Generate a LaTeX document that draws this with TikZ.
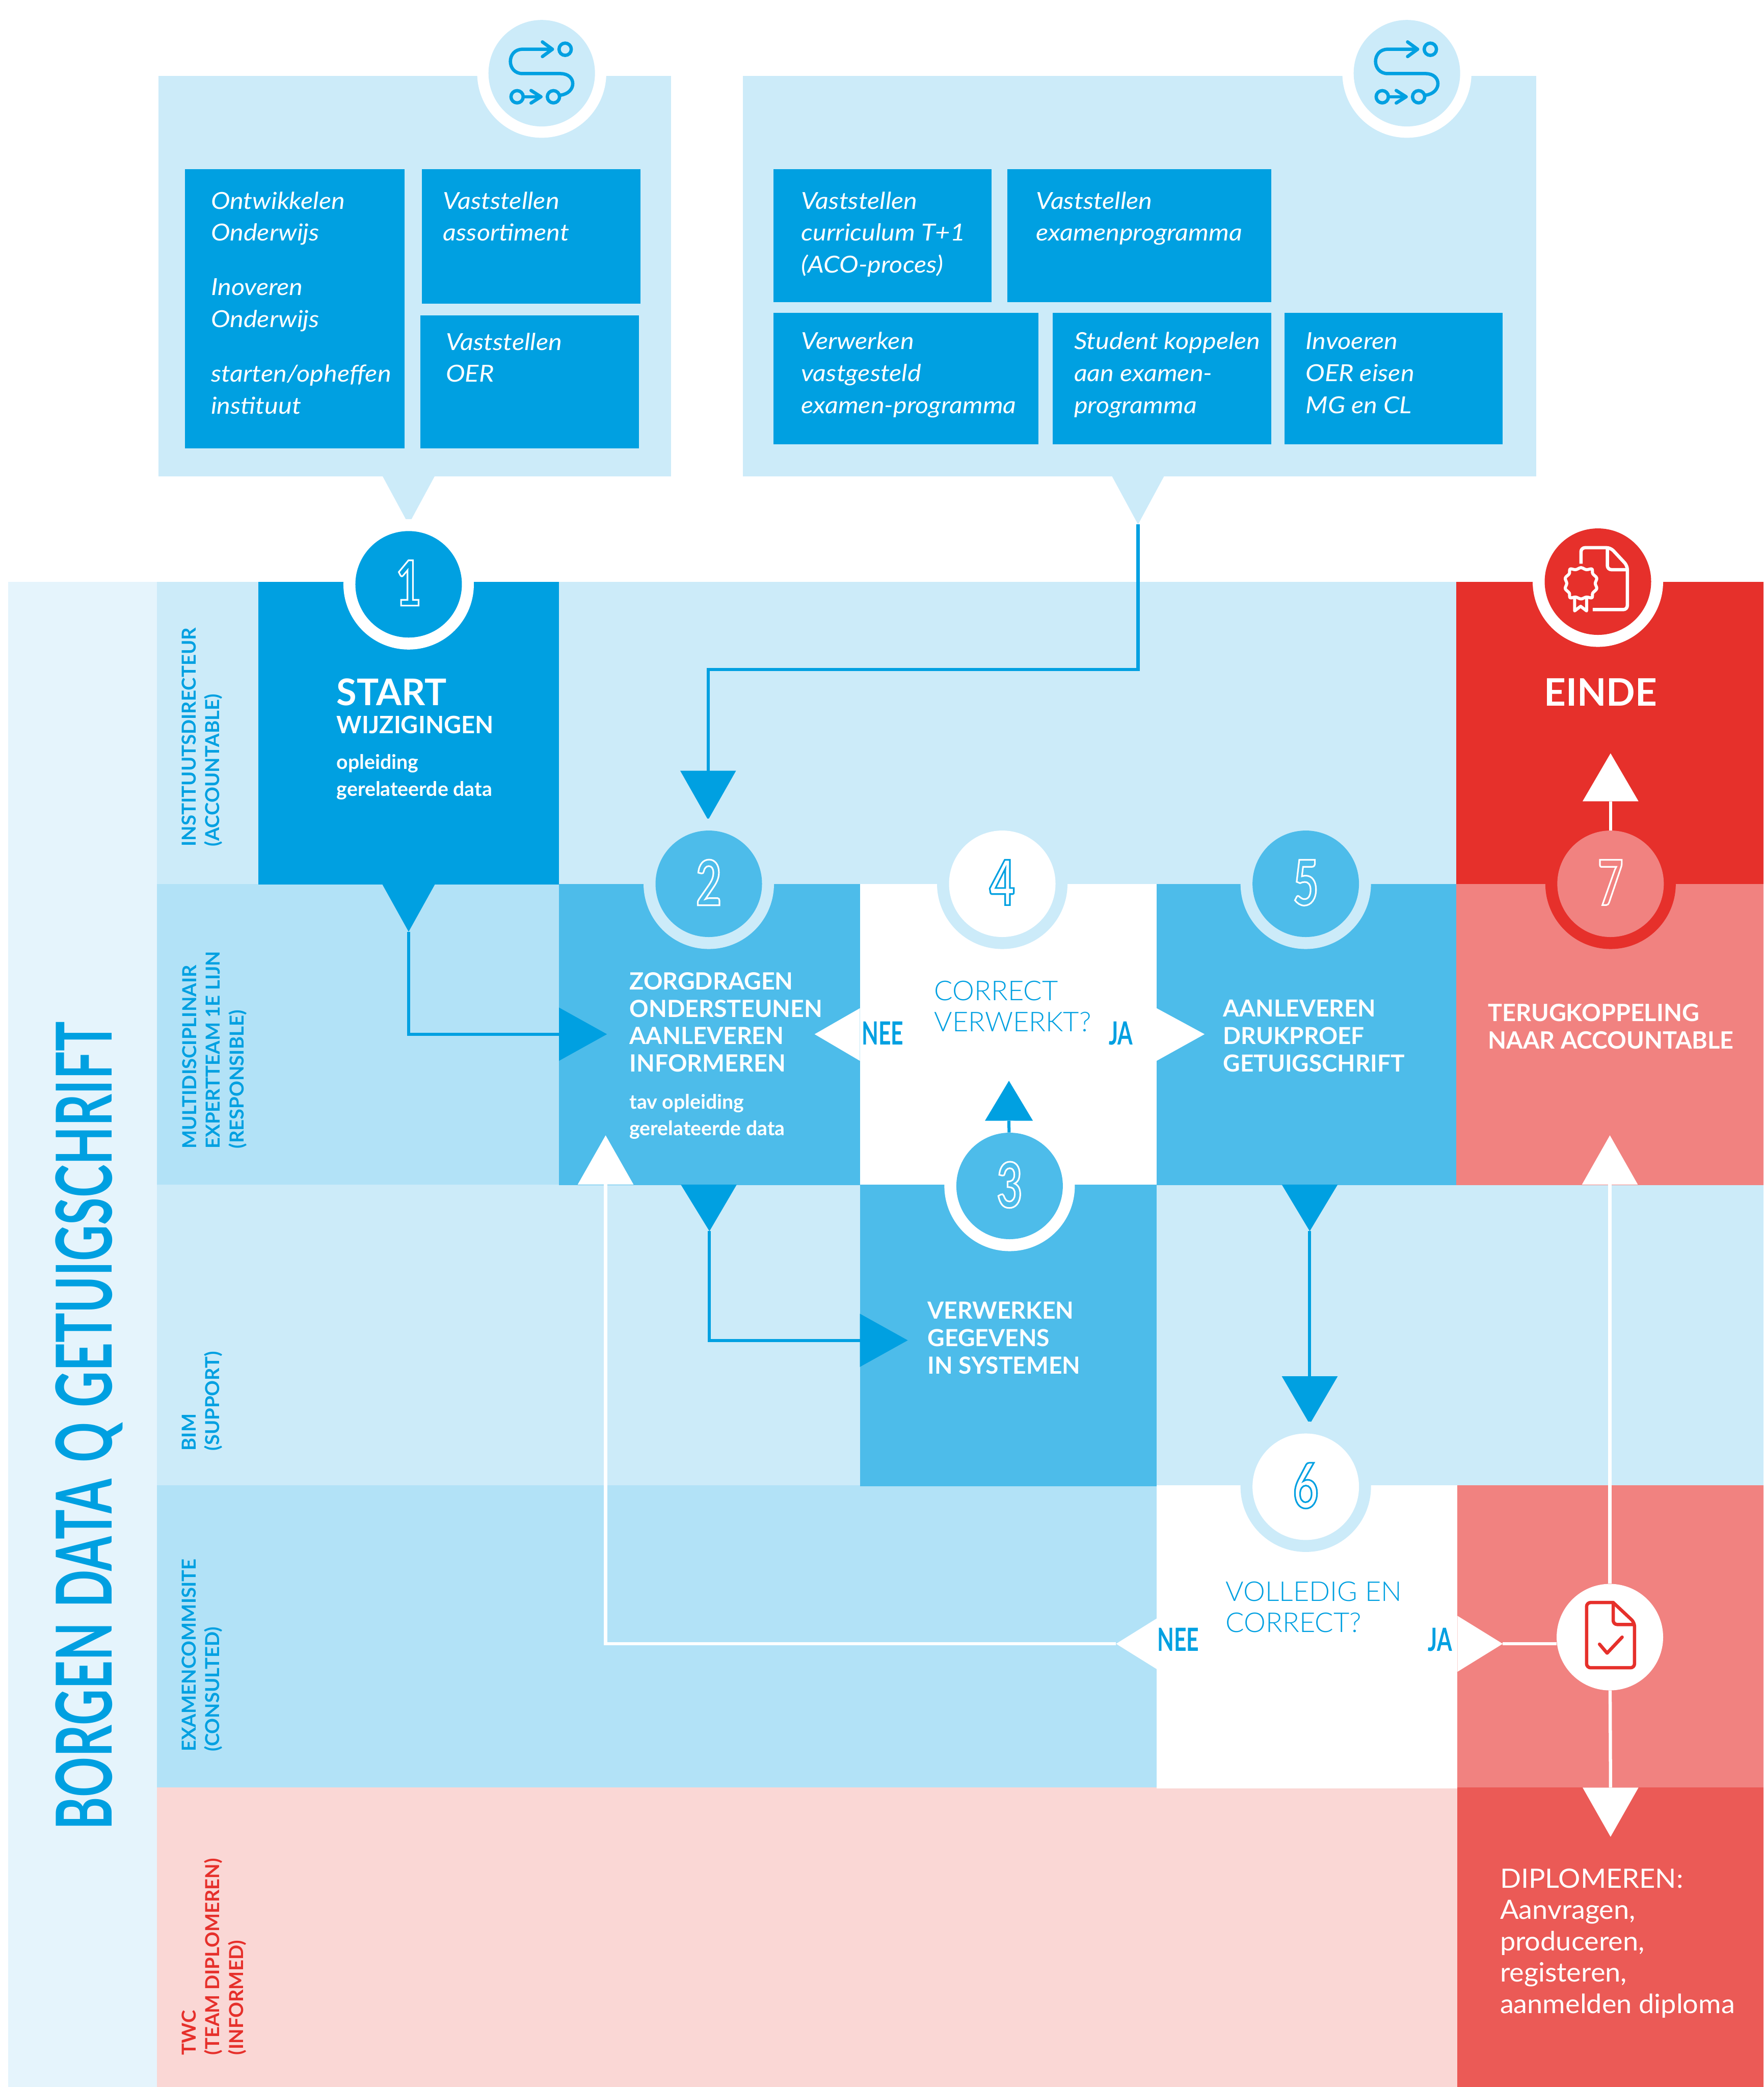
\documentclass[tikz,border=0pt]{standalone}
\usepackage{fontspec}
\usetikzlibrary{calc}
\setmainfont{Lato}
\IfFontExistsTF{Lato Light}{\newfontfamily\lightf{Lato Light}[FakeStretch=1.01]}{\newfontfamily\lightf{Lato}}
\newfontfamily\regf{Lato}[FakeStretch=1.035]
\newfontfamily\itf{Lato}[FakeStretch=1.10]
\newfontfamily\condf{Lato}[FakeStretch=0.645]
\newfontfamily\digf{Lato}[FakeStretch=0.7]
\newfontfamily\neef{Lato}[FakeStretch=0.68]
\newfontfamily\labf{Lato}[FakeStretch=1.01]
\definecolor{cPale}{HTML}{E5F4FC}
\definecolor{cLight}{HTML}{CCEBF9}
\definecolor{cRow}{HTML}{B2E2F7}
\definecolor{cBlue}{HTML}{00A0E1}
\definecolor{cMid}{HTML}{4DBCEA}
\definecolor{cRed}{HTML}{E6302B}
\definecolor{cSalmon}{HTML}{F18280}
\definecolor{cPink}{HTML}{FAD7D5}
\definecolor{cRed2}{HTML}{EB5A56}
\tikzset{
  txt/.style={anchor=north west,inner sep=0,outer sep=0,align=left},
  blueline/.style={draw=cBlue,line width=2.3pt},
  whiteline/.style={draw=white,line width=2.4pt},
  iconline/.style={line width=2.5pt,line cap=round,line join=round,fill=none},
}
\newcommand\outl[1]{\raisebox{2pt}{\special{pdf:literal 1 Tr 1.2 w}#1\special{pdf:literal 0 Tr 1 w}}}
% name,x1,y1,x2,y2,colour
\newcommand\area[6]{\node[inner sep=0,outer sep=0,fill=#6,minimum width={(#4-#2)*1pt},minimum height={(#5-#3)*1pt},anchor=center] (#1) at ({(#2+#4)/2},{(#3+#5)/2}) {};}
% name,colour,base a,base b,apex
\newcommand\tri[5]{\fill[#2] (#3) -- (#4) -- (#5) -- cycle; \coordinate (#1) at (#5); \coordinate (#1b) at ($(#3)!.5!(#4)$);}
% name,x,baseline,font,colour,size,skip,text
\newcommand\tx[8]{\node[txt,text=#5,font={#4\fontsize{#6}{#7}\selectfont}] (#1) at (#2,#3-#6) {\vrule height #6pt depth 0pt width 0pt #8};}
\newcommand\rx[8]{\node[txt,rotate=90,text=#5,font={#4\fontsize{#6}{#7}\selectfont}] (#1) at (#2-#6,#3) {\vrule height #6pt depth 0pt width 0pt #8};}
% name,x,y,ring,fill,digit colour,digit
\newcommand\numc[7]{\node[circle,inner sep=0,fill=#4,minimum size=98pt] (#1r) at (#2,#3) {};
  \node[circle,inner sep=0,fill=#5,minimum size=80pt,text=#6,font=\digf\bfseries\fontsize{47}{47}\selectfont] (#1) at (#2,#3) {\outl{#7}};}
\newcommand\routeicon[3]{\begin{scope}[shift={(#2,#3)}]
  \node[circle,inner sep=0,fill=white,minimum size=97pt] (#1r) at (0,0) {};
  \node[circle,inner sep=0,fill=cLight,minimum size=80pt] (#1) at (0,0) {};
  \draw[iconline,cBlue] (17.6,-18) circle (4.6);
  \draw[iconline,cBlue] (8.8,17.7) circle (4.6);
  \draw[iconline,cBlue] (-18.5,17.7) circle (4.6);
  \draw[iconline,cBlue] (8,-18) -- (-14.4,-18) .. controls (-26.6,-18) and (-26.6,0.3) .. (-14.4,0.3) -- (14,0.3) .. controls (26.4,0.3) and (26.4,15) .. (14,16.5);
  \draw[iconline,cBlue] (0.5,-23.5) -- (8,-18) -- (0.5,-12.5);
  \draw[iconline,cBlue] (-13.5,17.7) -- (-0.6,17.7);
  \draw[iconline,cBlue] (-8,13) -- (-0.6,17.7) -- (-8,22.4);
\end{scope}}
\begin{document}
\begin{tikzpicture}[x=1pt,y=-1pt]
\useasboundingbox (0,0) rectangle (1325,1568);
% --- top panels
\area{panelA}{119}{57}{504}{358}{cLight}
\area{panelB}{558}{57}{1154}{358}{cLight}
\tri{pA}{cLight}{287,357}{327,357}{307,394}
\tri{pB}{cLight}{835,357}{875,357}{855,394}
\routeicon{iconA}{407}{55}
\routeicon{iconB}{1057}{55}
\area{a1}{139}{127}{304}{337}{cBlue}
\area{a2}{317}{127}{481}{228}{cBlue}
\area{a3}{316}{237}{480}{337}{cBlue}
\area{b1}{581}{127}{745}{227}{cBlue}
\area{b2}{757}{127}{955}{227}{cBlue}
\area{b3}{581}{235}{780}{334}{cBlue}
\area{b4}{791}{235}{955}{334}{cBlue}
\area{b5}{965}{235}{1129}{334}{cBlue}
\tx{ta1a}{158.5}{157}{\itf\itshape}{white}{17.6}{24}{Ontwikkelen\\Onderwijs}
\tx{ta1b}{158.5}{222}{\itf\itshape}{white}{17.6}{24}{Inoveren\\Onderwijs}
\tx{ta1c}{158.5}{287}{\itf\itshape}{white}{17.6}{24}{starten/opheffen\\instituut}
\tx{ta2}{333}{157}{\itf\itshape}{white}{17.6}{24}{Vaststellen\\assortiment}
\tx{ta3}{335}{263}{\itf\itshape}{white}{17.6}{24}{Vaststellen\\OER}
\tx{tb1}{602}{157}{\itf\itshape}{white}{17.6}{24}{Vaststellen\\curriculum T+1\\(ACO-proces)}
\tx{tb2}{778.5}{157}{\itf\itshape}{white}{17.6}{24}{Vaststellen\\examenprogramma}
\tx{tb3}{602}{262.5}{\itf\itshape}{white}{17.6}{24}{Verwerken\\vastgesteld\\examen-programma}
\tx{tb4}{807}{262.5}{\itf\itshape}{white}{17.6}{24}{Student koppelen\\aan examen-\\programma}
\tx{tb5}{981}{262.5}{\itf\itshape}{white}{17.6}{24}{Invoeren\\OER eisen\\MG en CL}
% --- swimlanes
\area{strip}{6}{437}{118.5}{1568}{cPale}
\area{r1}{118}{437}{1095}{664.5}{cLight}
\area{r2}{118}{664}{421}{890.5}{cRow}
\area{r3}{118}{890}{1325}{1116.5}{cLight}
\area{r4}{118}{1116}{870}{1343.5}{cRow}
\area{r5}{118}{1343}{1096}{1568}{cPink}
\area{start}{194}{437}{420}{664.5}{cBlue}
\area{einde}{1094}{437}{1325}{664.5}{cRed}
\area{s2}{420}{664}{646}{890.5}{cMid}
\area{s4}{646}{664}{869}{890.5}{white}
\area{s5}{869}{664}{1094}{890.5}{cMid}
\area{s7}{1094}{664}{1325}{890.5}{cSalmon}
\area{s3}{646}{890}{869}{1116.5}{cMid}
\area{s6}{869}{1116}{1095}{1343.5}{white}
\area{sr}{1095}{1116}{1325}{1343.5}{cSalmon}
\area{dipl}{1095}{1343}{1325}{1568}{cRed2}
% --- triangles
\coordinate (j1) at (532,503);
\tri{tStart}{cBlue}{287,664}{327,664}{307,700}
\tri{tIn2}{cBlue}{511,579}{553,579}{532,616}
\tri{tR2}{cBlue}{420,757}{420,797}{456,777}
\tri{tD2}{cBlue}{511.5,890}{553.5,890}{533,925}
\tri{tR3}{cBlue}{646,987}{646,1027}{682,1007}
\tri{tU3}{cBlue}{740,842}{776,842}{758,812}
\tri{tD5}{cBlue}{963,890}{1005,890}{984,925}
\tri{tD6}{cBlue}{963,1034}{1005,1034}{984,1070}
\tri{tNee4}{white}{646,757.5}{646,797}{612,777}
\tri{tJa4}{white}{869,757.5}{869,797}{905,777}
\tri{tU2}{white}{434,890}{476,890}{455,853}
\tri{tU7}{white}{1188.5,890}{1230.5,890}{1209.5,853}
\tri{tEnd}{white}{1189,602}{1231,602}{1210,566}
\tri{tDip}{white}{1189,1343}{1231,1343}{1210,1380}
\tri{tNee6}{white}{869,1216}{869,1254}{838.5,1235}
\tri{tJa6}{white}{1095,1214}{1095,1256}{1129,1235}
% --- circles
\numc{c1}{307}{439}{white}{cBlue}{white}{1}
\numc{c2}{532.5}{664}{cLight}{cMid}{white}{2}
\numc{c3}{758.5}{891}{white}{cMid}{white}{3}
\numc{c4}{753}{664}{cLight}{white}{cBlue}{4}
\numc{c5}{981}{664}{cLight}{cMid}{white}{5}
\numc{c6}{981}{1117}{cLight}{white}{cBlue}{6}
\numc{c7}{1210}{664}{cRed}{cSalmon}{white}{7}
\node[circle,inner sep=0,fill=white,minimum size=98pt] (cEndr) at (1200.5,437) {};
\node[circle,inner sep=0,fill=cRed,minimum size=80pt] (cEnd) at (1200.5,437) {};
\node[circle,inner sep=0,fill=white,minimum size=80pt] (cChk) at (1209.5,1230) {};
% --- connectors
\draw[blueline] (pB) |- (j1) -- (tIn2b);
\draw[blueline] (tStart) |- (tR2b);
\draw[blueline] (tD2) |- (tR3b);
\draw[blueline] (c3) -- (tU3b);
\draw[blueline] (tD5) -- (tD6b);
\draw[whiteline] (c7) -- (tEndb);
\draw[whiteline] (tNee6) -| (tU2b);
\draw[whiteline] (tJa6) -- (cChk.west |- tJa6);
\draw[whiteline] (tU7b) -- (cChk);
\draw[whiteline] (cChk) -- (tDipb);
% --- EINDE icon
\draw[iconline,white,line cap=butt] (1187.8,423.5) [rounded corners=3pt] -- (1187.8,411.5) -- (1210,411.5) -- (1222.6,425) -- (1222.6,458) -- (1196.6,458);
\draw[iconline,white,rounded corners=3pt] (1207.6,412) -- (1207.6,428) -- (1222.6,428);
\draw[iconline,white,line width=2.3pt] plot[smooth cycle,tension=.6] coordinates {
(1187.8,426.5)(1191.8,428)(1196,427.5)(1196.6,431)(1199.6,434.3)(1198.5,438.3)(1199.6,442.3)(1196.6,445.6)(1196,449.1)(1191.8,448.6)(1187.8,450)(1183.8,448.6)(1179.6,449.1)(1179,445.6)(1176,442.3)(1177.1,438.3)(1176,434.3)(1179,431)(1179.6,427.5)(1183.8,428)};
\draw[iconline,white,line width=2.3pt] (1183,449) -- (1183,459) -- (1187.5,455.5) -- (1192,459) -- (1192,449);
% --- check icon
\draw[iconline,cRed,rounded corners=3pt] (1212,1204) -- (1192,1204) -- (1192,1253) -- (1228,1253) -- (1228,1219) -- (1212,1204);
\draw[iconline,cRed,rounded corners=3pt] (1212,1204) -- (1212,1220.5) -- (1227,1220.5);
\draw[iconline,cRed] (1201.7,1235.3) -- (1207.4,1242) -- (1218.7,1230);
% --- process texts
\tx{tStartA}{253}{530}{\bfseries}{white}{27.6}{27.6}{START}
\tx{tStartB}{253}{551}{\bfseries}{white}{18}{18}{WIJZIGINGEN}
\tx{tStartC}{253}{578}{\bfseries}{white}{15}{20}{opleiding\\gerelateerde data}
\tx{tEinde}{1160}{530.5}{\bfseries}{white}{28.5}{28.5}{EINDE}
\tx{t2a}{473}{743.5}{\bfseries}{white}{17.8}{20.6}{ZORGDRAGEN\\ONDERSTEUNEN\\AANLEVEREN\\INFORMEREN}
\tx{t2b}{473}{833}{\bfseries}{white}{15}{20}{tav opleiding\\gerelateerde data}
\tx{t4}{702}{751.5}{\lightf}{cBlue}{20.5}{23.5}{CORRECT\\VERWERKT?}
\tx{t4n}{647.5}{785}{\neef\bfseries}{cBlue}{24}{24}{NEE}
\tx{t4j}{833}{785}{\neef\bfseries}{cBlue}{24}{24}{JA}
\tx{t5}{919}{764}{\bfseries}{white}{17.6}{20.6}{AANLEVEREN\\DRUKPROEF\\GETUIGSCHRIFT}
\tx{t3}{697}{991}{\bfseries}{white}{17.7}{20.6}{VERWERKEN\\GEGEVENS\\IN SYSTEMEN}
\tx{t7}{1118}{767.5}{\bfseries}{white}{17.9}{20.6}{TERUGKOPPELING\\NAAR ACCOUNTABLE}
\tx{t6}{921}{1203}{\lightf}{cBlue}{20.5}{23.5}{VOLLEDIG EN\\CORRECT?}
\tx{t6n}{869.5}{1240.5}{\neef\bfseries}{cBlue}{24}{24}{NEE}
\tx{t6j}{1073}{1240.5}{\neef\bfseries}{cBlue}{24}{24}{JA}
\tx{tDip}{1127}{1418.5}{\regf}{white}{20}{23.5}{DIPLOMEREN:\\Aanvragen,\\produceren,\\registeren,\\aanmelden diploma}
% --- lane labels
\rx{l1}{147}{636}{\labf\bfseries}{cBlue}{14.5}{17.8}{INSTITUUTSDIRECTEUR\\(ACCOUNTABLE)}
\rx{l2}{147.5}{863}{\labf\bfseries}{cBlue}{14.5}{17.8}{MULTIDISCIPLINAIR\\EXPERTTEAM 1E LIJN\\(RESPONSIBLE)}
\rx{l3}{147}{1090}{\labf\bfseries}{cBlue}{14.5}{17.8}{BIM\\(SUPPORT)}
\rx{l4}{147}{1316}{\labf\bfseries}{cBlue}{14.5}{17.8}{EXAMENCOMMISITE\\(CONSULTED)}
\rx{l5}{147}{1544}{\labf\bfseries}{cRed}{14.5}{17.8}{TWC\\(TEAM DIPLOMEREN)\\(INFORMED)}
\rx{title}{84}{1375}{\condf\bfseries}{cBlue}{58}{58}{BORGEN\hspace{2pt} DATA\hspace{3pt} Q\hspace{2pt} GETUIGSCHRIFT}
\end{tikzpicture}
\end{document}
